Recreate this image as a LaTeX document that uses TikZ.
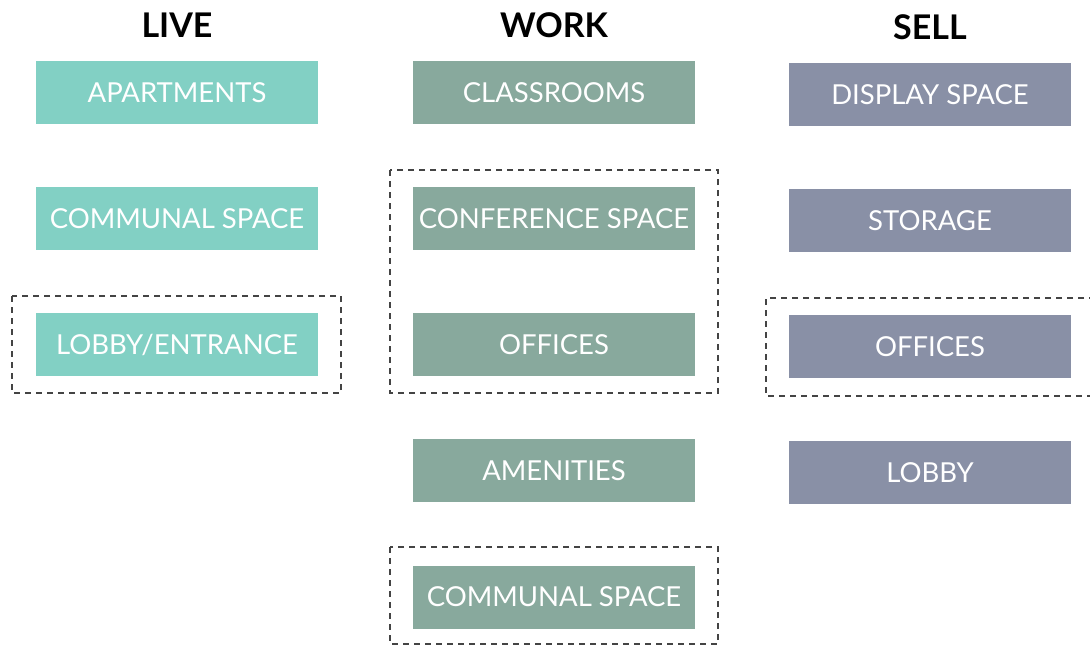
\documentclass[tikz,border=0pt]{standalone}
\usepackage{fontspec}
\setmainfont{Lato}
\definecolor{livec}{HTML}{82D0C4}
\definecolor{workc}{HTML}{88A99D}
\definecolor{sellc}{HTML}{8990A6}
\definecolor{dashc}{HTML}{444444}
\begin{document}
\begin{tikzpicture}[x=1pt,y=-1pt,
  room/.style={inner sep=0pt,minimum width=282pt,minimum height=63pt,text=white,font=\fontsize{27.5}{30}\selectfont},
  head/.style={font=\fontsize{34}{37}\selectfont\bfseries,text=black},
  grp/.style={draw=dashc,dashed,line width=1.3pt,dash pattern=on 6pt off 5pt}]
\useasboundingbox (0,0) rectangle (1090,646);
\node[head] (hl) at (177,25) {LIVE};
\node[head] (hw) at (554,25) {WORK};
\node[head] (hs) at (930,27) {SELL};
% live
\node[room,fill=livec] (l1) at (177,92.5) {APARTMENTS};
\node[room,fill=livec] (l2) at (177,218.5) {COMMUNAL SPACE};
\node[room,fill=livec] (l3) at (177,344.5) {LOBBY/ENTRANCE};
% work
\node[room,fill=workc] (w1) at (554,92.5) {CLASSROOMS};
\node[room,fill=workc] (w2) at (554,218.5) {CONFERENCE SPACE};
\node[room,fill=workc] (w3) at (554,344.5) {OFFICES};
\node[room,fill=workc] (w4) at (554,470.5) {AMENITIES};
\node[room,fill=workc] (w5) at (554,597) {COMMUNAL SPACE};
% sell
\node[room,fill=sellc] (s1) at (930,94.5) {DISPLAY SPACE};
\node[room,fill=sellc] (s2) at (930,220.5) {STORAGE};
\node[room,fill=sellc] (s3) at (930,346.5) {OFFICES};
\node[room,fill=sellc] (s4) at (930,472.5) {LOBBY};
% groups
\draw[grp] (12,296) rectangle (341,393);
\draw[grp] (390,170) rectangle (718,393);
\draw[grp] (390,547) rectangle (718,644);
\draw[grp] (1095,298) -- (766,298) -- (766,396) -- (1095,396);
\end{tikzpicture}
\end{document}
